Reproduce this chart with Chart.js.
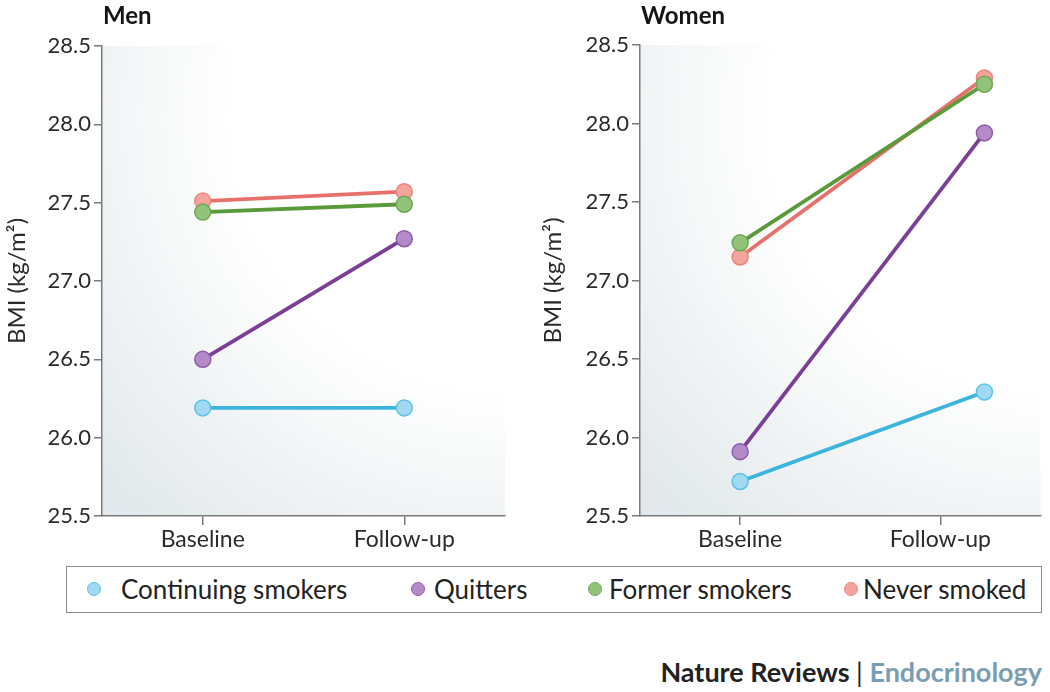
<!DOCTYPE html>
<html>
<head>
<meta charset="utf-8">
<script src="https://cdn.jsdelivr.net/npm/chart.js@4.4.1/dist/chart.umd.min.js"></script>
<style>
  html, body { margin: 0; padding: 0; background: #ffffff; }
  body { width: 1050px; height: 692px; position: relative; overflow: hidden; font-family: Lato, "DejaVu Sans", sans-serif; }
  canvas { position: absolute; top: 0; }
  #men { left: 0; }
  #women { left: 530px; }
  #legend { position: absolute; left: 66px; top: 566px; width: 976px; height: 47px; box-sizing: border-box; border: 1px solid #8c8c8c; }
  .lg-marker { position: absolute; top: 15px; width: 14px; height: 14px; border-radius: 50%; box-sizing: border-box; border: 1.5px solid; }
  .lg-text { position: absolute; top: 6px; font-size: 26px; line-height: 32px; color: #222; white-space: nowrap; }
  #footer { position: absolute; right: 8px; top: 655px; font-size: 27px; font-weight: bold; color: #222; white-space: nowrap; line-height: 34px; }
  #footer .sep { font-weight: normal; }
  #footer .journal { color: #7b9db2; }
</style>
</head>
<body>
<canvas id="men" width="520" height="560"></canvas>
<canvas id="women" width="520" height="560"></canvas>
<div id="legend"></div>
<div id="footer">Nature Reviews <span class="sep">|</span> <span class="journal">Endocrinology</span></div>
<script>
// ---------- data ----------
const categories = ['Baseline', 'Follow-up'];
const seriesNames = ['Continuing smokers', 'Quitters', 'Former smokers', 'Never smoked'];
const yTicks = [25.5, 26.0, 26.5, 27.0, 27.5, 28.0, 28.5];

// category positions on the x value axis (0..2)
const categoryX = [0.5, 1.5];
// in the original Women panel the follow-up points sit to the right of the tick
const menPointX = [0.5, 1.5];
const womenPointX = [0.5, 1.72];

const menContinuing = [26.19, 26.19];
const menQuitters   = [26.50, 27.27];
const menFormer     = [27.44, 27.49];
const menNever      = [27.51, 27.57];

const womenContinuing = [25.72, 26.29];
const womenQuitters   = [25.91, 27.94];
const womenFormer     = [27.24, 28.25];
const womenNever      = [27.15, 28.29];

// ---------- styles ----------
const lineColors   = ['#3cb5dd', '#7c3f98', '#5b9a3a', '#e8706b'];
const pointFills   = ['#a0d9f1', '#b48bc8', '#93c27a', '#f5a39d'];
const pointBorders = ['#5fc1e6', '#8d5ca8', '#70a856', '#eb8580'];
const drawOrder    = [3, 2, 0, 1];   // former on top, then never smoked

const textColor = '#2b2b2b';
const axisColor = '#7a7a7a';

// ---------- legend ----------
const legendMarkerCenters = [93, 417, 594, 850];
const legendTextStarts = [120, 433, 608, 862];
const legendEl = document.getElementById('legend');
seriesNames.forEach((name, i) => {
  const m = document.createElement('div');
  m.className = 'lg-marker';
  m.style.left = (legendMarkerCenters[i] - 66 - 7) + 'px';
  m.style.background = pointFills[i];
  m.style.borderColor = pointBorders[i];
  legendEl.appendChild(m);
  const t = document.createElement('div');
  t.className = 'lg-text';
  t.style.left = (legendTextStarts[i] - 66) + 'px';
  t.textContent = name;
  legendEl.appendChild(t);
});

// ---------- plugins ----------
const panelDecor = {
  id: 'panelDecor',
  beforeDraw(chart) {
    const { ctx, chartArea: { left, top, right, bottom } } = chart;
    const cy = top + (bottom - top) * 0.15;
    const g = ctx.createRadialGradient(right, cy, 0, right, cy, (right - left) * 1.35);
    g.addColorStop(0, '#ffffff');
    g.addColorStop(0.5, '#ffffff');
    g.addColorStop(1, '#e2e8eb');
    ctx.save();
    ctx.fillStyle = g;
    ctx.fillRect(left, top, right - left, bottom - top);
    ctx.restore();
  },
  afterDraw(chart, args, opts) {
    const { ctx, chartArea: { left } } = chart;
    ctx.save();
    ctx.font = 'bold 24px Lato, "DejaVu Sans", sans-serif';
    ctx.fillStyle = '#151515';
    ctx.textBaseline = 'middle';
    ctx.textAlign = 'left';
    ctx.fillText(opts.text, left + 1, 16);
    ctx.restore();
  }
};

function makeChart(id, panelTitle, seriesData, pointX, axisWidth, padTop, padRight, titlePad) {
  const datasets = seriesData.map((vals, i) => ({
    label: seriesNames[i],
    data: vals.map((v, j) => ({ x: pointX[j], y: v })),
    borderColor: lineColors[i],
    borderWidth: 3.8,
    pointRadius: 8,
    pointHoverRadius: 8,
    pointBackgroundColor: pointFills[i],
    pointBorderColor: pointBorders[i],
    pointBorderWidth: 1.5,
    tension: 0,
    order: drawOrder[i],
    clip: false
  }));
  return new Chart(document.getElementById(id), {
    type: 'line',
    data: { datasets },
    plugins: [panelDecor],
    options: {
      responsive: false,
      animation: false,
      devicePixelRatio: 1,
      layout: { padding: { top: padTop, right: padRight, bottom: 0, left: 0 } },
      plugins: {
        legend: { display: false },
        tooltip: { enabled: false },
        panelDecor: { text: panelTitle }
      },
      scales: {
        x: {
          type: 'linear',
          min: 0,
          max: 2,
          afterBuildTicks: s => { s.ticks = categoryX.map(v => ({ value: v })); },
          afterFit: s => { s.height = 44; },
          ticks: {
            autoSkip: false,
            maxRotation: 0,
            padding: 1,
            color: textColor,
            font: { family: 'Lato', size: 23 },
            callback: (v, i) => categories[i]
          },
          grid: { drawOnChartArea: false, tickLength: 9, color: axisColor, lineWidth: 1.5 },
          border: { color: axisColor, width: 1.5 }
        },
        y: {
          min: yTicks[0],
          max: yTicks[yTicks.length - 1],
          afterBuildTicks: s => { s.ticks = yTicks.map(v => ({ value: v })); },
          afterFit: s => { s.width = axisWidth; },
          ticks: {
            padding: 3,
            color: textColor,
            font: { family: 'Lato', size: 22 },
            callback: v => Number(v).toFixed(1)
          },
          grid: { drawOnChartArea: false, tickLength: 8, color: axisColor, lineWidth: 1.5 },
          border: { color: axisColor, width: 1.5 },
          title: {
            display: true,
            text: 'BMI (kg/m²)',
            color: textColor,
            font: { family: 'Lato', size: 24 },
            padding: { top: titlePad, bottom: 0 }
          }
        }
      }
    }
  });
}

makeChart('men', 'Men',
  [menContinuing, menQuitters, menFormer, menNever],
  menPointX, 102, 46, 15, 3);
makeChart('women', 'Women',
  [womenContinuing, womenQuitters, womenFormer, womenNever],
  womenPointX, 110, 45, 7, 9);
</script>
</body>
</html>
